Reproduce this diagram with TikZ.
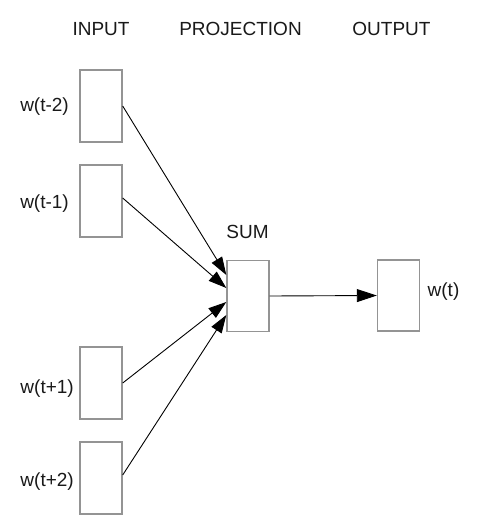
\documentclass[tikz,border=0pt]{standalone}
\usepackage{fontspec}
\setmainfont{Liberation Sans}
\usetikzlibrary{arrows.meta}
\begin{document}
\begin{tikzpicture}[x=1pt,y=-1pt,
  cell/.style={draw=black!42,line width=1.4pt,minimum width=42pt,minimum height=72pt,inner sep=0pt,fill=white},
  lbl/.style={inner sep=0pt,font=\fontsize{19}{22}\selectfont,text=black!90},
  link/.style={draw=black,line width=0.9pt,-{Triangle[length=18pt,width=12pt]}}]
\useasboundingbox (0,0) rectangle (484,523);
\node[lbl] (hin) at (101,29) {INPUT};
\node[lbl] (hproj) at (240.5,29) {PROJECTION};
\node[lbl] (hout) at (391.5,29) {OUTPUT};
\node[cell] (i1) at (101,106) {};
\node[cell] (i2) at (101,201) {};
\node[cell] (i3) at (101,383) {};
\node[cell] (i4) at (101,478) {};
\node[cell,minimum height=71pt] (sum) at (248,296) {};
\node[cell,minimum height=71pt] (out) at (398.5,295.5) {};
\node[lbl,anchor=east] (l1) at (69,107) {w(t-2)};
\node[lbl,anchor=east] (l2) at (69,204) {w(t-1)};
\node[lbl,anchor=east] (l3) at (74,389) {w(t+1)};
\node[lbl,anchor=east] (l4) at (74,482) {w(t+2)};
\node[lbl] (lsum) at (247.5,232) {SUM};
\node[lbl,anchor=west] (lout) at (427.5,292) {w(t)};
\draw[link] (i1.east) -- ([yshift=21pt]sum.west);
\draw[link] ([yshift=3pt]i2.east) -- ([yshift=8pt]sum.west);
\draw[link] (i3.east) -- ([yshift=-6pt]sum.west);
\draw[link] ([yshift=3pt]i4.east) -- ([yshift=-19pt]sum.west);
\draw[link,-{Triangle[length=20pt,width=13pt]}] (sum.east) -- (out.west);
\end{tikzpicture}
\end{document}
